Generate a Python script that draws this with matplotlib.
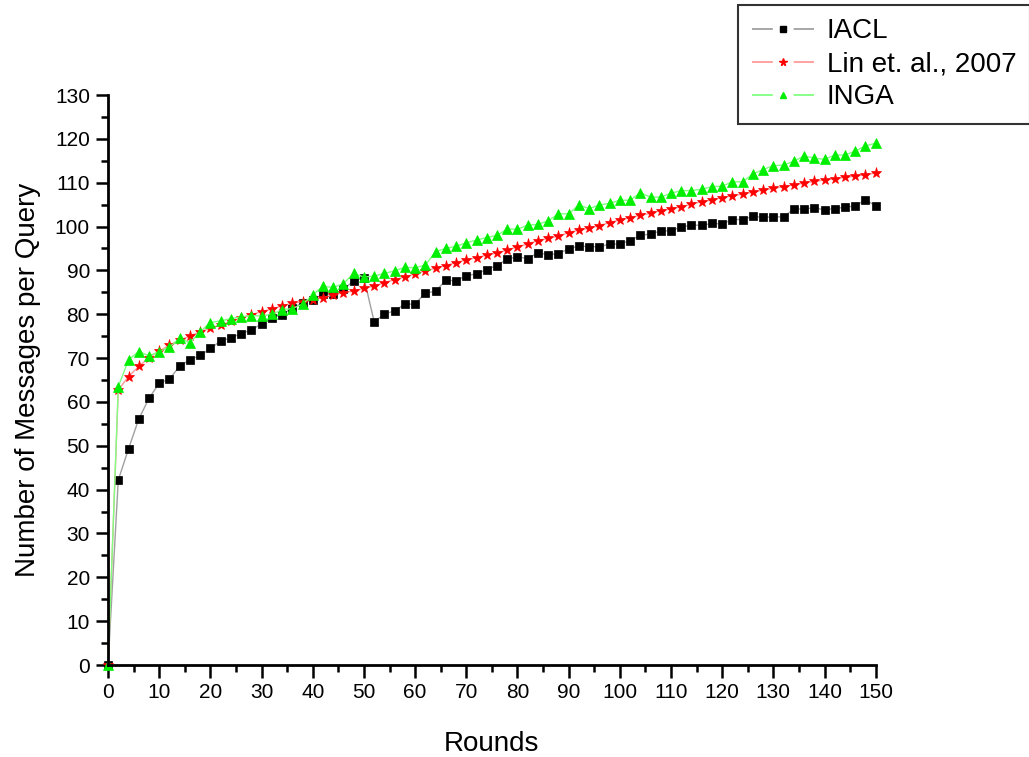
import matplotlib

matplotlib.use("Agg")
import matplotlib.pyplot as plt
from matplotlib.lines import Line2D
from matplotlib.ticker import MultipleLocator

plt.rcParams["font.family"] = ["Liberation Sans", "DejaVu Sans"]
plt.rcParams["lines.scale_dashes"] = False

ROUNDS = list(range(0, 151, 2))

IACL = [
    0.0, 42.2, 49.3, 56.1, 60.8, 64.3, 65.2, 68.2, 69.6, 70.6,
    72.2, 73.9, 74.6, 75.6, 76.4, 77.8, 79.2, 79.9, 81.4, 82.6,
    83.3, 84.6, 84.6, 85.7, 87.6, 88.3, 78.3, 80.0, 80.8, 82.3,
    82.3, 84.9, 85.2, 87.8, 87.6, 88.8, 89.2, 90.2, 91.1, 92.6,
    93.1, 92.7, 94.0, 93.6, 93.8, 94.9, 95.6, 95.4, 95.4, 96.0,
    96.0, 96.8, 98.0, 98.3, 99.0, 99.0, 99.9, 100.3, 100.3, 100.7,
    100.6, 101.6, 101.6, 102.3, 102.1, 102.2, 102.2, 104.0, 104.0, 104.3,
    103.8, 104.1, 104.4, 104.7, 106.1, 104.7,
]

LIN_2007 = [
    0.0, 62.7, 65.8, 68.1, 70.1, 71.6, 73.0, 74.1, 75.0, 76.0,
    76.8, 77.5, 78.4, 79.2, 79.9, 80.6, 81.2, 81.9, 82.5, 82.9,
    83.3, 83.8, 84.4, 84.9, 85.3, 85.9, 86.4, 87.2, 87.9, 88.5,
    89.2, 89.9, 90.5, 91.1, 91.8, 92.4, 92.9, 93.5, 94.0, 94.6,
    95.4, 96.0, 96.8, 97.3, 97.8, 98.6, 99.2, 99.6, 100.2, 100.9,
    101.5, 102.0, 102.6, 103.0, 103.6, 104.0, 104.5, 105.1, 105.7, 106.0,
    106.6, 107.0, 107.4, 107.8, 108.3, 108.7, 109.1, 109.5, 109.9, 110.3,
    110.6, 110.9, 111.2, 111.5, 111.8, 112.2,
]

INGA = [
    0.0, 63.5, 69.6, 71.5, 70.5, 71.5, 72.5, 74.5, 73.5, 76.0,
    78.1, 78.5, 79.0, 79.4, 79.7, 79.6, 80.0, 81.0, 81.3, 82.3,
    84.4, 86.4, 86.1, 87.0, 89.3, 88.5, 88.7, 89.3, 89.9, 90.7,
    90.6, 91.2, 94.3, 95.0, 95.5, 96.3, 96.9, 97.5, 98.0, 99.4,
    99.4, 100.3, 100.5, 101.3, 102.9, 102.9, 104.9, 104.1, 104.9, 105.3,
    106.0, 106.0, 107.7, 106.7, 106.7, 107.6, 108.2, 108.2, 108.5, 109.1,
    109.2, 110.2, 110.2, 112.0, 113.0, 113.9, 114.0, 114.9, 116.1, 115.6,
    115.3, 116.3, 116.3, 117.2, 118.4, 119.0,
]

SERIES = [
    ("IACL", IACL, "#a0a0a0", "black", "s", 6),
    ("Lin et. al., 2007", LIN_2007, "#ff9a9a", "red", "*", 8),
    ("INGA", INGA, "#80ff80", "#00ee00", "^", 7),
]


def main() -> None:
    fig = plt.figure(figsize=(10.29, 7.57), dpi=100)
    ax = fig.add_axes([0.105, 0.1215, 0.746, 0.753])

    handles = []
    for label, values, line_color, marker_color, marker, size in SERIES:
        ax.plot(
            ROUNDS,
            values,
            color=line_color,
            linewidth=1.0,
            marker=marker,
            markersize=size,
            markerfacecolor=marker_color,
            markeredgecolor=marker_color,
            markeredgewidth=0.5,
            clip_on=False,
        )
        # legend proxy: line - marker - line, with a gap round the marker
        handles.append(
            Line2D(
                [], [],
                color=line_color,
                linewidth=1.3,
                linestyle=(0, (15, 15)),
                marker=marker,
                markersize=size * 0.7,
                markerfacecolor=marker_color,
                markeredgecolor=marker_color,
                label=label,
            )
        )

    ax.set_xlim(0, 150)
    ax.set_ylim(0, 130)
    ax.xaxis.set_major_locator(MultipleLocator(10))
    ax.xaxis.set_minor_locator(MultipleLocator(5))
    ax.yaxis.set_major_locator(MultipleLocator(10))
    ax.yaxis.set_minor_locator(MultipleLocator(5))

    ax.spines["top"].set_visible(False)
    ax.spines["right"].set_visible(False)
    for side in ("left", "bottom"):
        ax.spines[side].set_linewidth(2.0)

    ax.tick_params(axis="both", which="major", direction="out", length=9,
                   width=1.8, labelsize=15, pad=4)
    ax.tick_params(axis="both", which="minor", direction="out", length=5,
                   width=1.8)

    ax.set_xlabel("Rounds", fontsize=20, labelpad=21)
    ax.set_ylabel("Number of Messages per Query", fontsize=20, labelpad=10)

    legend = fig.legend(
        handles=handles,
        loc="upper left",
        bbox_to_anchor=(0.717, 0.994),
        fontsize=20,
        frameon=True,
        fancybox=False,
        framealpha=1.0,
        borderpad=0.5,
        borderaxespad=0.0,
        labelspacing=0.25,
        handlelength=2.25,
        handletextpad=0.45,
    )
    legend.get_frame().set_edgecolor("#333333")
    legend.get_frame().set_linewidth(1.5)

    fig.savefig("out.png", dpi=100)
    plt.close(fig)


if __name__ == "__main__":
    main()
